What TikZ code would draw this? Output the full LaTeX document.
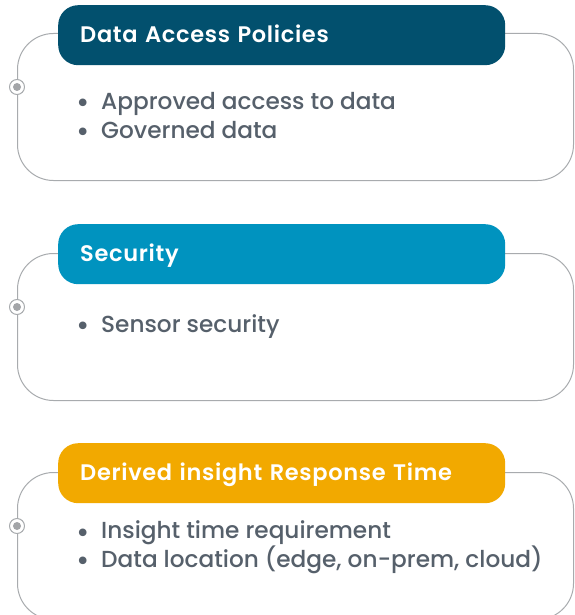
\documentclass[tikz,border=0pt]{standalone}
\usepackage{fontspec}
\setmainfont{Poppins}[UprightFont={* Medium},BoldFont={* SemiBold}]
\definecolor{policyblue}{HTML}{02506E}
\definecolor{securityblue}{HTML}{0093BF}
\definecolor{insightamber}{HTML}{F2A900}
\definecolor{cardline}{HTML}{A8ABAE}
\definecolor{dotgray}{HTML}{A3A5A8}
\definecolor{itemgray}{HTML}{56606B}
\newcommand{\itm}{\makebox[25pt][l]{\raisebox{-3.5pt}{\fontsize{29}{29}\selectfont\textbullet}}}
\begin{document}
\begin{tikzpicture}[x=1pt,y=-1pt,line join=round,line cap=round,
		card/.style={draw=cardline,line width=1pt,fill=white,rounded corners=36pt,minimum width=556pt,minimum height=147pt,inner sep=0pt,anchor=north west},
		head/.style={rounded corners=20pt,minimum height=60pt,text width=403pt,inner xsep=22pt,inner ysep=0pt,text height=15pt,text depth=0pt,align=left,anchor=north west,text=white,font=\fontsize{22.5}{26}\selectfont\bfseries\addfontfeature{LetterSpace=3}},
		marker/.style={circle,draw=cardline,fill=white,line width=1pt,minimum size=15pt,inner sep=0pt,path picture={\fill[dotgray] (path picture bounding box.center) circle (4pt);}},
		items/.style={anchor=base west,align=left,inner sep=0pt,text=itemgray,font=\fontsize{23.2}{28.5}\selectfont}]
	\useasboundingbox (0,0) rectangle (574,615);
	\clip (0,0) rectangle (574,615);
	
	\node[card] (card1) at (17,33) {};
	\node[head,fill=policyblue] (head1) at (58,5) {Data Access Policies};
	\node[marker] (dot1) at (17,87) {};
	\node[items] (list1) at (76,138) {\itm Approved access to data\\\itm Governed data};
	
	\node[card] (card2) at (17,253) {};
	\node[head,fill=securityblue] (head2) at (58,224) {Security};
	\node[marker] (dot2) at (17,307) {};
	\node[items] (list2) at (76,332) {\itm Sensor security};
	
	\node[card] (card3) at (17,472) {};
	\node[head,fill=insightamber] (head3) at (58,443) {Derived insight Response Time};
	\node[marker] (dot3) at (17,526) {};
	\node[items] (list3) at (76,567) {\itm Insight time requirement\\\itm Data location (edge, on-prem, cloud)};
\end{tikzpicture}
\end{document}
